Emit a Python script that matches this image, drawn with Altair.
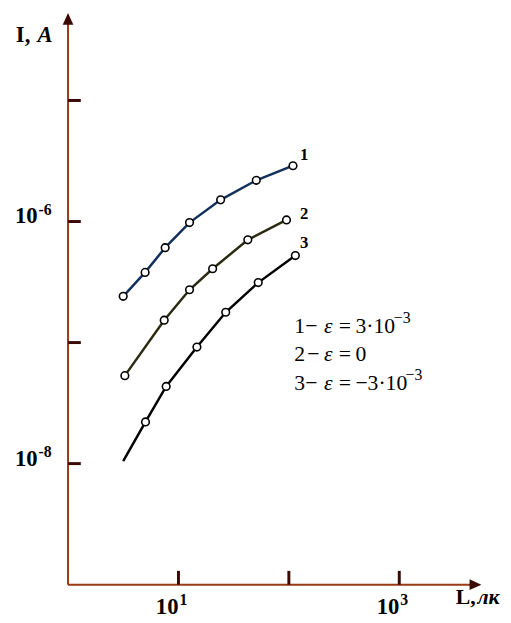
import altair as alt
import pandas as pd

# ---- data ----
curve_names = ["1", "2", "3"]
curve_colors = ["#12305c", "#2a2a10", "#000000"]

c1_L = [3.16, 4.99, 7.58, 12.6, 24.1, 50.7, 109.0]
c1_I = [2.41e-7, 3.80e-7, 6.08e-7, 9.8e-7, 1.51e-6, 2.19e-6, 2.89e-6]
c1_marked = [True, True, True, True, True, True, True]

c2_L = [3.27, 7.43, 12.6, 20.4, 42.5, 95.2]
c2_I = [5.33e-8, 1.53e-7, 2.73e-7, 4.07e-7, 7.06e-7, 1.03e-6]
c2_marked = [True, True, True, True, True, True]

c3_L = [3.16, 5.03, 7.74, 14.7, 26.8, 52.8, 114.5]
c3_I = [1.05e-8, 2.21e-8, 4.34e-8, 9.18e-8, 1.78e-7, 3.13e-7, 5.23e-7]
c3_marked = [False, True, True, True, True, True, True]

y_ticks = [1e-8, 1e-7, 1e-6, 1e-5]
y_label_vals = [1e-6, 1e-8]
y_label_exp = ["-6", "-8"]
x_ticks = [10, 100, 1000]
x_label_vals = [10, 1000]
x_label_exp = ["1", "3"]

legend_num = ["1", "2", "3"]
legend_value = ["3\u00b710", "0", "\u22123\u00b710"]
legend_exp = ["\u22123", "", "\u22123"]

# ---- tables ----
rows = []
for name, Ls, Is, ms in zip(curve_names, [c1_L, c2_L, c3_L], [c1_I, c2_I, c3_I],
                            [c1_marked, c2_marked, c3_marked]):
    for i, (l, v, m) in enumerate(zip(Ls, Is, ms)):
        rows.append({"curve": name, "L": l, "I": v, "marked": m, "order": i})
df = pd.DataFrame(rows)
one = pd.DataFrame({"a": [0]})

SERIF = "Liberation Serif"
AXIS_COLOR = "#9a3a16"
DARK = "#3a0a02"

xs = alt.Scale(type="log", domain=[1, 1000], range=[61, 397.6], nice=False)
ys = alt.Scale(type="log", domain=[1e-9, 1e-5], range=[581, 89], nice=False)
X = alt.X("L:Q", scale=xs, axis=None)
Y = alt.Y("I:Q", scale=ys, axis=None)

lines = alt.Chart(df).mark_line(strokeWidth=2.5).encode(
    x=X, y=Y,
    color=alt.Color("curve:N", scale=alt.Scale(domain=curve_names, range=curve_colors), legend=None),
    order="order:Q",
)
points = alt.Chart(df[df["marked"]]).mark_point(
    shape="circle", filled=True, fill="white", fillOpacity=1, stroke="black",
    strokeWidth=1.6, size=60, opacity=1,
).encode(x=X, y=Y)

# axes drawn by hand
y_axis = alt.Chart(one).mark_rule(color=AXIS_COLOR, strokeWidth=2).encode(
    x=alt.value(61), y=alt.value(10), y2=alt.value(581))
x_axis = alt.Chart(one).mark_rule(color=AXIS_COLOR, strokeWidth=2).encode(
    y=alt.value(581), x=alt.value(61), x2=alt.value(472))
y_arrow = alt.Chart(one).mark_point(shape="M0,-1L-0.9,1L0.9,1Z", filled=True, color=DARK,
                                    size=144, opacity=1).encode(x=alt.value(61), y=alt.value(6))
x_arrow = alt.Chart(one).mark_point(shape="M1,0L-1,-0.9L-1,0.9Z", filled=True, color=DARK,
                                    size=144, opacity=1).encode(x=alt.value(475), y=alt.value(581))

ytick_df = pd.DataFrame({"I": y_ticks})
xtick_df = pd.DataFrame({"L": x_ticks})
y_tick_marks = alt.Chart(ytick_df).mark_rule(color=DARK, strokeWidth=3).encode(
    y=Y, x=alt.value(61), x2=alt.value(74))
x_tick_marks = alt.Chart(xtick_df).mark_rule(color=DARK, strokeWidth=3).encode(
    x=X, y=alt.value(567), y2=alt.value(581))

ylab_df = pd.DataFrame({"I": y_label_vals, "exp": y_label_exp})
xlab_df = pd.DataFrame({"L": x_label_vals, "exp": x_label_exp})
y_lab10 = alt.Chart(ylab_df).mark_text(text="10", font=SERIF, fontSize=23, fontWeight="bold",
                                       align="right", baseline="middle", dy=-5, color="black").encode(
    y=Y, x=alt.value(30))
y_labexp = alt.Chart(ylab_df).mark_text(font=SERIF, fontSize=16, fontWeight="bold",
                                        align="left", baseline="middle", dy=-12, dx=1, color="black").encode(
    y=Y, x=alt.value(30), text="exp:N")
x_lab10 = alt.Chart(xlab_df).mark_text(text="10", font=SERIF, fontSize=23, fontWeight="bold",
                                       align="right", baseline="middle", color="black").encode(
    x=X, y=alt.value(604))
x_labexp = alt.Chart(xlab_df).mark_text(font=SERIF, fontSize=16, fontWeight="bold",
                                        align="left", baseline="middle", dx=1, color="black").encode(
    x=X, y=alt.value(597), text="exp:N")


def txt(s, x, y, size, bold=False, italic=False, align="left", baseline="alphabetic"):
    return alt.Chart(one).mark_text(
        text=s, font=SERIF, fontSize=size, fontWeight="bold" if bold else "normal",
        fontStyle="italic" if italic else "normal", align=align, baseline=baseline,
        color="black").encode(x=alt.value(x), y=alt.value(y))


texts = [
    txt("I,", 8, 30, 23, bold=True),
    txt("A", 30, 30, 23, bold=True, italic=True),
    txt("L,", 455, 601, 22, bold=True),
    txt("\u043b\u043a", 477, 601, 22, bold=True, italic=True),
    txt(curve_names[0], 301, 144, 17, bold=True, align="center", baseline="middle"),
    txt(curve_names[1], 301, 204, 17, bold=True, align="center", baseline="middle"),
    txt(curve_names[2], 301, 234, 17, bold=True, align="center", baseline="middle"),
]
legend_y = [325, 354, 383]
for i in range(3):
    y = legend_y[i]
    texts.append(txt(legend_num[i], 291, y, 22))
    texts.append(txt("\u2212", 302 + (2 if i == 1 else 0), y, 22))
    texts.append(txt("\u03b5", 321, y, 22, italic=True))
    texts.append(txt("=", 336, y, 22))
    texts.append(txt(legend_value[i], 353, y, 22))
    if legend_exp[i]:
        texts.append(txt(legend_exp[i], 392 + (12 if i == 2 else 0), y - 10, 16))

chart = alt.layer(
    y_axis, x_axis, y_arrow, x_arrow, y_tick_marks, x_tick_marks,
    lines, points, y_lab10, y_labexp, x_lab10, x_labexp, *texts
).properties(
    width=503, height=615, padding=0,
    autosize=alt.AutoSizeParams(type="none"),
).configure_view(stroke=None)

chart.save("out.html", embed_options={"renderer": "svg", "actions": False})
